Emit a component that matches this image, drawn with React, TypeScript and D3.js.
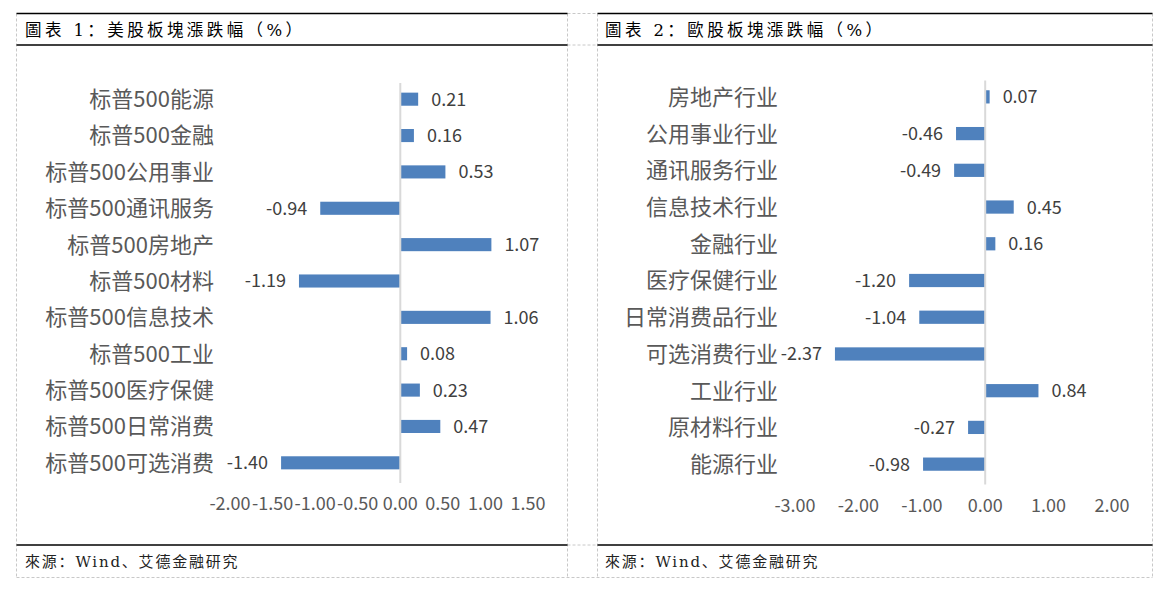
import React from "react";
import * as d3 from "d3";

const usCategories = [
  "标普500能源",
  "标普500金融",
  "标普500公用事业",
  "标普500通讯服务",
  "标普500房地产",
  "标普500材料",
  "标普500信息技术",
  "标普500工业",
  "标普500医疗保健",
  "标普500日常消费",
  "标普500可选消费",
];
const usValues = [0.21, 0.16, 0.53, -0.94, 1.07, -1.19, 1.06, 0.08, 0.23, 0.47, -1.4];
const usTicks = [-2, -1.5, -1, -0.5, 0, 0.5, 1, 1.5];

const euCategories = [
  "房地产行业",
  "公用事业行业",
  "通讯服务行业",
  "信息技术行业",
  "金融行业",
  "医疗保健行业",
  "日常消费品行业",
  "可选消费行业",
  "工业行业",
  "原材料行业",
  "能源行业",
];
const euValues = [0.07, -0.46, -0.49, 0.45, 0.16, -1.2, -1.04, -2.37, 0.84, -0.27, -0.98];
const euTicks = [-3, -2, -1, 0, 1, 2];

const title1 = "圖表 1：美股板塊漲跌幅（%）";
const title2 = "圖表 2：歐股板塊漲跌幅（%）";
const sourceText = "來源：Wind、艾德金融研究";

const BAR = "#4f81bd";
const CAT_FONT = "'Noto Sans CJK SC', 'Noto Sans', sans-serif";
const SERIF = "'DejaVu Serif', 'Liberation Serif', 'Noto Sans CJK SC', serif";

type PanelProps = {
  categories: string[];
  values: number[];
  ticks: number[];
  domain: [number, number];
  xRange: [number, number];
  yRange: [number, number];
  labelRight: number;
  tickY: number;
};

const fmt2 = d3.format(".2f");
const fmt = (v: number) => fmt2(v).replace("\u2212", "-");

function Panel({ categories, values, ticks, domain, xRange, yRange, labelRight, tickY }: PanelProps) {
  const x = d3.scaleLinear().domain(domain).range(xRange);
  const y = d3.scaleBand<string>().domain(categories).range(yRange).paddingInner(0.64).paddingOuter(0.32);
  const x0 = x(0);
  return (
    <g>
      {categories.map((c, i) => {
        const v = values[i];
        const yy = y(c)!;
        const bh = y.bandwidth();
        const xs = Math.min(x(v), x0);
        const w = Math.abs(x(v) - x0);
        const cy = yy + bh / 2;
        return (
          <g key={c}>
            <rect x={xs} y={yy} width={w} height={bh} fill={BAR} />
            <text
              x={labelRight}
              y={cy}
              dy="0.36em"
              textAnchor="end"
              fontSize={22}
              fill="#595959"
              fontFamily={CAT_FONT}
            >
              {c}
            </text>
            <text
              x={v >= 0 ? x(v) + 13 : x(v) - 13}
              y={cy}
              dy="0.36em"
              textAnchor={v >= 0 ? "start" : "end"}
              fontSize={18}
              fill="#404040"
              fontFamily={CAT_FONT}
            >
              {fmt(v)}
            </text>
          </g>
        );
      })}
      <line x1={x0} x2={x0} y1={yRange[0] + 2} y2={yRange[1] + 2} stroke="#d9d9d9" strokeWidth={2} />
      {ticks.map((t) => (
        <text
          key={t}
          x={x(t)}
          y={tickY}
          dy="0.36em"
          textAnchor="middle"
          fontSize={18}
          fill="#595959"
          fontFamily={CAT_FONT}
        >
          {fmt(t)}
        </text>
      ))}
    </g>
  );
}

export default function App() {
  const dash = { stroke: "#c8c8c8", strokeWidth: 1, strokeDasharray: "3,2", fill: "none" };
  const solid = { stroke: "#000", strokeWidth: 1.5 };
  const top = 13.5;
  const mid = 45;
  const bot = 545;
  const end = 577.5;
  const xs = [16.5, 567.5, 597.5, 1152.5];
  return (
    <svg
      width={1167}
      height={592}
      style={{ position: "absolute", left: 0, top: 0, background: "#fff" }}
    >
      <rect x={0} y={0} width={1167} height={592} fill="#fff" />
      {xs.map((xx) => (
        <line key={xx} x1={xx} x2={xx} y1={top} y2={end} {...dash} />
      ))}
      <line x1={xs[0]} x2={xs[3]} y1={end} y2={end} {...dash} />
      {[top, mid, bot].map((yy) => (
        <line key={yy} x1={xs[1]} x2={xs[2]} y1={yy} y2={yy} {...dash} />
      ))}
      {[top, mid, bot].map((yy) => (
        <g key={"s" + yy}>
          <line x1={xs[0]} x2={xs[1]} y1={yy} y2={yy} {...solid} />
          <line x1={xs[2]} x2={xs[3]} y1={yy} y2={yy} {...solid} />
        </g>
      ))}
      <text x={25} y={36} fontSize={16.5} fill="#000" fontFamily={SERIF} letterSpacing={3.4}>
        {title1}
      </text>
      <text x={605} y={36} fontSize={16.5} fill="#000" fontFamily={SERIF} letterSpacing={3.4}>
        {title2}
      </text>
      <text x={25} y={567} fontSize={15} fill="#222" fontFamily={SERIF} letterSpacing={1.8}>
        {sourceText}
      </text>
      <text x={605} y={567} fontSize={15} fill="#222" fontFamily={SERIF} letterSpacing={1.8}>
        {sourceText}
      </text>
      <Panel
        categories={usCategories}
        values={usValues}
        ticks={usTicks}
        domain={[-2, 1.5]}
        xRange={[230, 528]}
        yRange={[81, 481]}
        labelRight={214}
        tickY={504}
      />
      <Panel
        categories={euCategories}
        values={euValues}
        ticks={euTicks}
        domain={[-3, 2]}
        xRange={[795, 1112]}
        yRange={[78.5, 482.5]}
        labelRight={778}
        tickY={506}
      />
    </svg>
  );
}
